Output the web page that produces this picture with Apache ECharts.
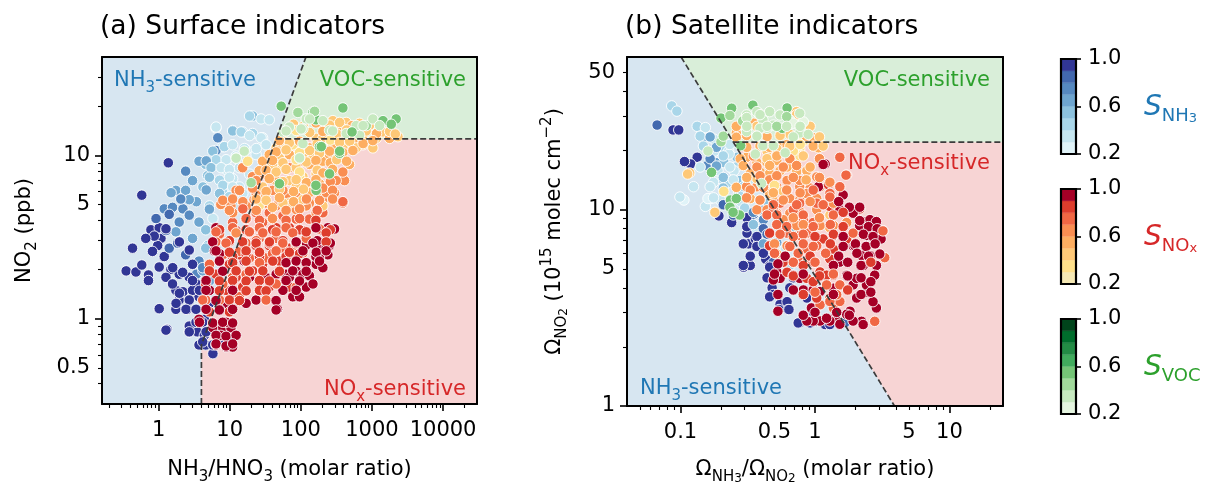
<!DOCTYPE html>
<html><head><meta charset="utf-8">
<script src="https://cdn.jsdelivr.net/npm/echarts@6/dist/echarts.min.js"></script>
<style>html,body{margin:0;padding:0;background:#fff}#c{width:1206px;height:490px}</style>
</head><body><div id="c"></div>
<script>
const FONT = 'DejaVu Sans';
// ---------- panel (a): surface indicators  [NH3/HNO3, NO2 ppb, sensitivity] ----------
const aNH3 = [[6.4,14.7,0.3],[21,17.4,0.5],[27.6,16.7,0.3],[36,16.5,0.3],[29,12.8,0.3],[21,13.6,0.4],[15.2,13.9,0.4],[11,14.2,0.6],[8,11.3,0.4],[8.9,9.2,0.4],[12.3,9.9,0.3],[17,10.8,0.3],[23.5,10.1,0.3],[11,7.2,0.3],[13.7,6.4,0.3],[8,5.9,0.4],[8.9,8.2,0.3],[6.8,8.8,0.4],[4.6,8.8,0.5],[4.2,6.4,0.5],[5.2,4.9,0.4],[4.9,2.8,0.5],[5.8,4.1,0.3],
[6.8,12.8,0.7],[6.4,10.7,0.7],[3.7,9.2,0.6],[2.4,8,0.7],[1.75,6.1,0.6],[2.4,6.1,0.6],[3.4,5.2,0.6],[1.5,5.9,0.6],[1.2,4.7,0.7],[1.57,4.8,0.7],[2.2,4.7,0.7],[2.7,4.3,0.7],[1.95,3.9,0.7],[1.75,3.4,0.6],[3.7,3.9,0.6],[4.6,3.5,0.5],[3,3.1,0.6],[4.6,2.7,0.5],[2.7,2.6,0.7],[3.7,2.25,0.7],[1.95,2.95,0.7],[3.4,1.87,0.7],[5.2,1.7,0.6],[4.2,1.96,0.6],[2.7,5.35,0.6],[4.9,7.5,0.5],[3,7,0.6],[2.05,5.4,0.7],[1.41,4.35,0.8],
[1.37,9,1],[0.58,5.7,1],[0.78,3.5,0.9],[1.02,3.6,0.9],[1.08,3.1,0.9],[0.97,2.8,0.9],[1.2,2.4,0.9],[1.41,2.7,0.8],[1.85,2.9,0.8],[0.43,2.7,1],[0.35,1.96,1],[0.48,1.93,1],[0.58,2.13,1],[0.72,1.85,1],[0.72,1.71,1],[1.02,2.07,0.9],[1.49,2,0.9],[1.95,1.87,0.9],[2.7,1.79,0.9],[1.75,1.49,1],[2.2,1.46,0.9],[2.7,1.3,0.9],[1.95,1.3,1],[2.56,1.14,1],[1.02,1.15,1],[1.31,0.86,1],[1.75,1.14,1],[3.4,1.63,0.9],[3.7,1.36,0.9],[3.4,1.14,1],[2.7,0.83,1],[3.5,0.83,1],[4.4,0.79,1],[3.7,0.69,1],[4.6,0.69,1],[5.8,0.61,1],[2.7,0.9,1],[0.87,3.2,0.9],[0.82,2.58,0.9],[0.66,3.1,0.9],[1.27,1.79,0.9],[1.57,1.63,0.9],[3,1.49,0.9],[2.4,2.46,0.8],[0.92,4.1,0.8],[1.27,3.46,0.8],[5.2,1.24,0.9],[4.4,0.99,1],
[19,17.4,0.4],[6.43,14.9,0.3],[11,14.1,0.5],[14.5,13.9,0.4],[19,13.2,0.3],[27.6,12.8,0.3],[8.4,11.3,0.4],[11,11.6,0.3],[16.1,11,0.3],[23.6,11,0.3],[32.5,11.6,0.3],[5.78,10.6,0.5],[6.43,9.4,0.4],[8.9,9.4,0.3],[12.3,9.64,0.3],[4.68,9.25,0.6],[5.46,8.4,0.5],[7.57,8.4,0.3],[9.9,8.2,0.3],[13.7,8.4,0.3],[19,7.67,0.3],[5.18,7.34,0.5],[7.2,7.04,0.4],[9.9,7.34,0.3],[8,6.55,0.4],[11,6.4,0.3],[15.3,5.84,0.3],[4.68,6.14,0.6],[7.2,5.84,0.5],[9.9,5.58,0.4],[5.18,4.68,0.6],[12.3,4.87,0.4],[8.4,5.1,0.5],
[1.27,3.55,1],[1.96,2.95,1],[2.7,2.63,1],[1.58,2.05,1],[2.18,1.92,0.9],[3,2.15,0.9],[4.17,2.05,0.7],[3,1.71,1],[1.96,1.43,1],[2.7,1.3,0.9],[3.75,1.49,0.9],[1.76,1.24,1],[2.43,1.14,1],[3.36,1.14,0.9],[1.27,0.85,1],[2.7,0.83,1],[4.17,0.95,0.9],[4.65,0.83,0.9],[3.36,0.95,1],[4.17,0.72,1],[5.77,0.69,1],[7.16,0.72,0.9],[9.9,0.74,0.9]];
const aNOx = [[6.1,2.6,1],[7.2,2.25,1],[5.2,1.49,1],[3.7,0.99,1],[5.8,0.88,1],[8,0.88,1],[10.4,0.88,1],[6.4,0.69,1],[8.9,0.67,1],[11,0.67,1],[7.5,0.79,1],[8.9,1.19,1],[15.2,2.8,1],[16,2.25,1],[19,1.79,1],[32,1.79,1],[45,1.87,1],[62,1.87,1],[86,1.96,1],[107,1.87,1],[132,1.83,1],[164,2.15,1],[183,2.7,1],[240,2.46,1],[164,2.8,1],[183,2.35,1],[69,1.79,1],[77,1.36,1],[96,1.36,1],[119,1.56,1],[47,1.14,1],[23.5,1.3,1],[17,1.24,1],[12.3,1.36,1],[204,2.05,1],[148,1.63,1],[8.9,0.95,1],
[6.4,3.6,0.9],[12.3,3.46,0.8],[19,3.4,0.8],[29,3.4,0.8],[45,3.6,0.8],[69,3.6,0.8],[107,3.46,0.8],[204,3.46,0.9],[240,3.6,0.9],[298,3.54,0.9],[253,2.8,0.9],[69,2.7,0.8],[36,2.8,0.8],[23.5,2.8,0.8],[13.7,2.46,0.8],[9.9,2.15,0.8],[12.3,1.79,0.8],[15.2,1.56,0.8],[6.4,1.87,0.8],[4.6,1.63,0.8],[8.9,1.49,0.8],[21,1.96,0.8],[29,2.15,0.8],[50,2.25,0.8],[86,2.35,0.8],[36,1.56,0.8],[26,1.49,0.8],[69,1.56,0.8],[45,2.58,0.9],[119,2.82,0.9],[56,1.49,0.9],[7.2,1.14,0.9],[9.9,1.1,0.8],[5.2,1.1,0.8],
[7.2,3.3,0.7],[9.9,2.95,0.7],[17,2.9,0.7],[26,3.1,0.7],[45,3.1,0.7],[56,2.7,0.7],[86,2.82,0.7],[107,2.52,0.7],[119,3.1,0.7],[13.7,2.58,0.7],[8,2.46,0.7],[5.2,2.15,0.7],[11,1.79,0.7],[4.6,1.3,0.7],[7.2,1.3,0.7],[8,1.63,0.7],[23.5,4.45,0.7],[36,4.45,0.7],[56,4.26,0.7],[86,4.07,0.7],[29,3.88,0.7],[17,4.07,0.7],[11,3.88,0.7],[132,4.07,0.7],[204,4.45,0.7],[390,5.1,0.7],[183,3.54,0.7],[19,2.35,0.7],[32,2.35,0.7],[17,1.87,0.7],[45,1.63,0.7],[86,1.56,0.7],[13.7,1.36,0.7],
[7.5,5,0.6],[10.4,4.9,0.6],[15.2,5.1,0.6],[22,5.35,0.6],[32,5.1,0.6],[45,4.9,0.6],[62,5.6,0.6],[86,5.9,0.6],[132,5.1,0.6],[204,5.35,0.6],[298,5.9,0.6],[412,7,0.6],[314,7,0.6],[227,5.9,0.6],[164,6.4,0.6],[119,4.9,0.6],[56,6.1,0.6],[40,6.1,0.6],[23.5,5.9,0.6],[17,4.9,0.6],[12.3,6.1,0.6],[21,7.4,0.6],[29,7.7,0.6],[45,8.05,0.6],[69,8.4,0.6],[107,9.2,0.6],[15.2,8.4,0.6],[29,9.2,0.5],[11,4.45,0.6],[86,4.66,0.6],[164,4.45,0.6],
[45,11.1,0.4],[62,11.6,0.4],[96,12.1,0.4],[132,11.1,0.5],[204,11.1,0.4],[282,11.6,0.5],[390,11.1,0.4],[540,12.1,0.5],[747,11.6,0.4],[1030,11.1,0.4],[1150,12.7,0.4],[1430,13.9,0.4],[1770,12.7,0.5],[2320,13,0.4],[435,15.9,0.4],[540,14.5,0.4],[314,14.2,0.4],[204,15.2,0.4],[282,16.3,0.4],[164,12.7,0.4],[107,10.1,0.4],[69,10.1,0.5],[50,9.6,0.4],[36,10.1,0.5],[86,8.4,0.4],[132,8.8,0.5],[204,9.2,0.5],[253,10.1,0.5],[350,9.6,0.5],[484,8.8,0.5],[282,8.05,0.5],[164,7.7,0.4],[107,7.4,0.4],[69,7,0.4],[86,6.4,0.4],[132,5.9,0.5],[204,4.9,0.4],[45,7,0.5],[29,6.4,0.4],[26,4.9,0.3],[32,5.6,0.5],[69,5.1,0.4],[107,5.35,0.4],[56,5.1,0.4],[747,13.3,0.4],[390,12.7,0.4],[204,12.7,0.4],[69,11.6,0.4],[107,11.1,0.4],[148,10.1,0.4],[390,14.5,0.5],[600,11.1,0.4],[53,8.8,0.4],[183,6.7,0.5],[26,8.05,0.5],[40,8.8,0.4],[17.9,9.2,0.3],[96,7.4,0.3],[77,11.6,0.3],
[79,15.5,0.4],[109,15.1,0.4],[163,15.8,0.5],[254,15.3,0.4],[351,15.9,0.4],[525,15.2,0.5],[670,15.7,0.4],[927,15.3,0.4],
[56,13.6,0.4],[86,14.2,0.3],[133,13.8,0.4],[204,14,0.5],[320,13.5,0.4],[440,14.3,0.4],[600,13.7,0.4],[830,14.1,0.4],[1160,13.6,0.5],[1770,14,0.4],[2130,13.5,0.4],
[50,12.3,0.5],[69,11.9,0.4],[96,12.2,0.5],[170,11.8,0.4],[260,12.4,0.3],[351,12,0.4],[485,12.2,0.4],[750,11.8,0.5],[1030,12.3,0.5],
[45,10.5,0.5],[62,10.8,0.4],[96,10.4,0.3],[133,10.7,0.4],[183,10.3,0.4],[254,10.6,0.5],[390,10.4,0.5],[540,10.7,0.5],
[40,9.3,0.5],[56,9,0.4],[86,9.4,0.3],[120,9.1,0.4],[163,9.3,0.5],[260,9,0.5],[320,9.4,0.4],[440,9.2,0.5],
[32.5,8.1,0.5],[45,7.9,0.4],[62,8.2,0.4],[96,7.9,0.3],[170,8.1,0.4],[204,7.8,0.5],[280,8.2,0.5],[390,7.9,0.6],
[23.6,7,0.6],[36,7.2,0.5],[56,6.9,0.4],[86,7.1,0.4],[120,6.8,0.5],[163,7.1,0.5],[260,6.9,0.6],
[13.7,6.1,0.6],[21,6.3,0.6],[32.5,6,0.5],[50,6.2,0.4],[79,6,0.5],[109,6.2,0.4],[170,6,0.5],[204,6.3,0.6],[280,6.1,0.6],
[8,5.3,0.6],[11,5.4,0.6],[15.3,5.2,0.6],[23.6,5.4,0.5],[32.5,5.3,0.4],[50,5.5,0.5],[79,5.2,0.5],[120,5.4,0.6],[183,5.3,0.6],[280,5.4,0.6],[390,5.2,0.7],
[9.9,4.6,0.6],[15.3,4.7,0.7],[23.6,4.6,0.6],[40,4.8,0.5],[62,4.6,0.6],[96,4.7,0.6],[170,4.6,0.7],
[17,4.1,0.7],[26.2,4,0.7],[40,4.1,0.6],[62,4,0.7],[96,4.1,0.7],[163,4,0.8],
[7.2,3.5,0.8],[11,3.6,0.7],[17,3.5,0.8],[26.2,3.6,0.7],[40,3.5,0.8],[62,3.6,0.7],[96,3.5,0.8],[163,3.6,1],[260,3.5,0.8],
[6.4,2.95,0.7],[9.9,3,0.8],[15.3,2.9,0.8],[23.6,3,0.7],[36,2.9,0.8],[56,3,0.8],[86,2.9,0.7],[170,3,1],[260,2.9,1],
[7.2,2.5,1],[11,2.4,0.8],[17,2.5,0.8],[26.2,2.4,0.8],[40,2.5,0.7],[62,2.4,0.8],[96,2.5,0.8],[163,2.4,1],
[6.42,3.4,0.7],[12.3,3.35,0.6],[18.9,3.4,0.7],[29.2,3.35,0.7],[44.9,3.4,0.7],[77,3.35,0.7],[119,3.4,0.8],[227,3.35,0.8],
[5.77,2.95,0.9],[8.88,2.9,0.7],[15.2,2.95,0.8],[23.5,2.9,0.8],[36.2,2.95,0.8],[55.7,2.9,0.7],[86,2.95,1],[148,2.9,1],[227,2.95,0.8],
[6.42,2.6,1],[9.9,2.55,0.8],[17,2.6,0.8],[26.2,2.55,0.8],[44.9,2.6,0.7],[69,2.55,0.8],[107,2.6,1],[165,2.55,1],[227,2.6,0.9],
[7.16,2.25,1],[11,2.2,0.8],[17,2.25,0.8],[26.2,2.2,0.7],[40.3,2.25,0.8],[62,2.2,1],[86,2.25,1],[119,2.2,1],[183,2.25,1],
[5.18,1.96,0.8],[7.97,1.95,1],[12.3,1.96,0.8],[18.9,1.95,0.8],[29.2,1.96,0.8],[50,1.95,0.8],[77,1.96,1],[119,1.95,1],
[4.65,1.71,0.9],[7.16,1.7,0.8],[11,1.71,0.8],[17,1.7,0.8],[26.2,1.71,0.8],[36.2,1.7,0.8],[62,1.71,1],[95.8,1.7,1],
[4.65,1.49,0.9],[7.16,1.48,0.8],[11,1.49,1],[17,1.48,0.8],[26.2,1.49,0.8],[32.5,1.48,0.8],[86,1.49,1],
[4.17,1.3,0.7],[6.42,1.29,0.9],[9.9,1.3,0.8],[13.7,1.29,0.8],[32.5,1.3,0.7],[44.9,1.29,1],
[4.65,1.14,1],[7.16,1.13,0.9],[11,1.14,0.9],[44.9,1.13,1],
[3.75,0.95,1],[5.77,0.94,1],[7.97,0.95,1],[11,0.94,0.9],
[6.42,0.79,1],[8.88,0.78,1],[12.3,0.79,1],[6.42,0.7,1],[8.88,0.68,1],[11,0.7,1]];
const aVOC = [[53,20,0.5],[91,18.3,0.4],[148,18.4,0.5],[390,19.5,0.5],[119,16.7,0.3],[164,16.5,0.5],[204,16.3,0.3],[69,14.9,0.3],[107,14.5,0.3],[253,14.2,0.3],[435,13.6,0.3],[832,15.2,0.4],[1030,16.7,0.3],[1430,16.3,0.5],[2190,16.7,0.5],[670,13.3,0.3],[183,11.3,0.5],[107,11.8,0.3],[350,10.3,0.5],[253,7.7,0.5],[164,6.1,0.5],[50,6.7,0.5],[20,6.8,0.4],[16,10.6,0.3],[12.3,9.6,0.3],[96,9.6,0.3],[600,15.2,0.3],[56,13.9,0.3],
[156,18.6,0.4],[133,16.7,0.3],[525,13.9,0.5],[750,15.2,0.3],[1280,15.2,0.3],[1870,15.5,0.5],[62,14.1,0.3],[101,14.5,0.3],[280,14.1,0.3],[194,11.3,0.5],[351,10.6,0.5],[96,9.64,0.3],[163,6.55,0.5]];
// ---------- panel (b): satellite indicators [Ω_NH3/Ω_NO2, Ω_NO2, sensitivity] ----------
const bNH3 = [[0.086,33.8,0.4],[0.094,31.8,0.4],[0.067,27,0.8],[0.088,25.5,1],[0.097,25.5,1],[0.133,26.6,0.4],[0.153,26.2,0.3],[0.145,23.3,0.6],[0.167,23.4,0.6],[0.177,22.9,0.3],[0.133,18.5,0.9],[0.119,17.1,1],[0.158,16.8,0.7],[0.182,17.4,0.6],[0.204,20.3,0.4],[0.228,19.9,0.3],[0.263,18.5,0.5],[0.125,13.1,0.3],[0.106,11.2,0.2],[0.153,10.4,0.3],[0.167,11.4,0.3],[0.198,11.2,0.3],[0.209,14.1,0.4],[0.238,13.9,0.6],[0.278,14.1,0.5],[0.27,12.1,0.4],[0.294,13.1,0.4],[0.193,9.3,1],[0.221,10.6,0.9],[0.24,8.6,1],[0.312,9.6,0.8],[0.349,9.5,0.8],[0.33,8.8,0.8],[0.36,7.9,0.3],[0.391,10,0.6],[0.414,8.9,0.7],[0.312,7.6,1],[0.32,6.7,1],[0.36,7.1,0.9],[0.38,6.8,0.9],[0.294,5.1,1],[0.33,5.2,1],[0.43,5.6,0.9],[0.46,5.2,1],[0.45,4.5,1],[0.48,4,1],[0.49,3.7,1],[0.55,3.3,1],[0.62,3.4,1],[0.63,3.1,1],[0.77,2.66,1],[0.52,6.8,0.6],[0.6,6.3,0.3],[0.65,5.2,0.4],[0.49,5.4,0.8],[0.57,5.4,0.8],[0.69,4.5,1],[0.65,4,1],[0.87,3.55,0.9],[0.97,3,1],[1.15,2.7,1],[1.19,2.6,1],[1.29,2.6,1],[1.67,2.66,0.8],[1.03,2.7,0.9],[0.69,7.6,0.5],[0.45,10.8,0.5],[0.18,19.9,0.3],[0.23,19.2,0.3],[0.19,15.8,0.3],[0.16,11.4,0.2],[0.26,16.5,0.4],[0.22,13.6,0.4],[0.21,17.4,0.5],[0.25,15.8,0.3],[0.28,11,0.3],[0.3,10.2,0.4],[0.31,14.4,0.3],[0.36,14,0.3],
[0.14,23.7,0.4],[0.166,23.5,0.6],[0.148,21.1,0.4],[0.185,20.8,0.6],[0.233,21.5,0.3],[0.107,17.6,1],[0.166,18.2,0.7],[0.208,18.8,0.4],[0.14,16.5,0.3],[0.185,16.7,0.6],[0.233,16.5,0.3],[0.208,14.6,0.5],[0.247,14.2,0.3],[0.176,13.8,0.3],[0.166,13.1,0.3],[0.208,12.9,0.5],[0.099,11.6,0.3],[0.208,10.6,0.8],[0.176,11.5,0.3],[0.247,9.4,0.8],[0.311,9.1,0.9],[0.348,9.7,0.7],[0.311,8.2,1],[0.348,8.4,0.5],[0.413,8,0.8],[0.37,7.3,1],[0.44,7.5,0.8],[0.293,6.7,1],[0.37,6.5,1],[0.413,6.7,0.6],[0.33,5.8,1],[0.413,6,0.9],[0.293,5.2,1],[0.46,5.1,0.9],[0.44,4.5,1],[0.46,3.6,1],[0.54,3.1,1],[0.64,3.1,1],[0.75,2.65,1],[0.92,2.65,1]];
const bNOx = [[0.26,24.6,0.5],[0.31,26,0.5],[0.35,27.6,0.5],[0.38,31,0.4],[0.73,31.6,0.4],[0.97,23.3,0.5],[1.06,20.7,0.5],[0.77,20.4,0.3],[0.77,18.8,0.3],[0.55,20.7,0.5],[0.62,21.5,0.5],[0.65,24.2,0.4],[0.117,15.4,0.4],[0.18,9.7,0.4],[0.21,12.4,0.3],[0.31,18.5,0.5],[0.37,17.4,0.5],[0.44,17.4,0.5],[0.52,17.8,0.5],[0.33,15.3,0.5],[0.39,15.6,0.5],[0.46,15.3,0.5],[0.55,15.8,0.5],[0.62,16.5,0.5],[0.73,15.6,0.5],[0.87,15.8,0.5],[0.31,13.1,0.6],[0.37,13.1,0.6],[0.44,13.6,0.6],[0.52,13.1,0.6],[0.62,12.6,0.6],[0.77,13.1,0.6],[0.92,12.9,0.6],[1.09,13.1,0.6],[0.49,12.4,0.4],[0.58,12.4,0.4],[0.33,11.4,0.5],[0.39,11.2,0.5],[0.49,11.2,0.5],[0.65,11.4,0.6],[0.77,11.2,0.6],[1.03,11.4,0.6],[1.29,11.4,0.6],[0.37,10,0.6],[0.44,10,0.6],[0.52,9.6,0.6],[0.65,9.6,0.6],[0.77,9.8,0.6],[1.03,10,0.6],[1.29,9.4,0.4],[1.29,8.1,0.5],[0.69,19.9,0.3],[0.82,22.4,0.3],[0.44,19.9,0.4],[1.03,14.7,0.6],[0.37,14.4,0.4],
[1.19,17.1,0.9],[1.06,13.1,1],[1.53,18.5,0.7],[1.72,15,0.7],[1.26,13.4,0.8],[1.62,11.9,0.9],[1.29,10.4,0.8],[1.53,10,0.9],[1.82,10,0.9],[2.15,10.1,0.8],[1.92,9.6,1],[2.28,8.7,1],[2.56,8.9,1],[2.86,8.7,1],[2.41,7.4,1],[2.7,7.5,1],[3.21,7.8,1],[3.1,7.1,1],[3.3,5.7,0.7],[3.03,5.95,1],[1.92,6.55,1],[2.22,5.84,1],[2.56,5.84,1],[2.28,5.2,1],[2.86,5.2,1],[2.78,4.64,1],[2.41,3.8,1],[2.86,3.16,1],[2.7,3.4,1],[2.22,2.7,1],[2.28,2.6,1],[2.78,2.7,0.7],[1.92,4.14,0.9],[1.72,4.64,0.9],[2.04,4.47,0.9],[2.04,3.55,0.9],[2.41,4.14,0.9],[1.82,3.04,1],[1.72,2.93,0.9],[1.92,2.71,0.9],[1.41,2.82,1],[1.53,2.61,1],[1.29,2.71,1],[1.09,2.71,1],[0.97,2.71,1],[0.87,2.71,1],[0.94,3.16,0.9],[1.09,3.28,0.7],[1.29,3.55,0.7],[1.37,3.16,0.7],[1.53,3.41,0.7],[0.82,3.9,1],[0.97,3.9,1],[1.09,3.83,0.9],[1.37,3.98,0.9],[1.53,4.14,0.7],[0.52,4.82,1],[0.55,4.47,1],[0.49,4.39,1],[0.53,3.04,1],[0.77,5.41,0.7],[0.87,5.41,0.7],[0.97,5.41,0.8],[1.09,4.82,0.8],[1.37,4.64,0.8],[1.22,4.64,0.8],[1.53,5.41,1],[1.29,5.62,0.8],[1.37,6.3,0.8],[1.15,7.1,0.8],[1.37,7.4,0.8],[1.72,7.1,0.8],[1.98,6.55,1],[0.87,6.3,0.7],[1.03,6.55,0.7],[0.69,5.41,0.6],[0.62,6.55,0.6],[0.77,7.4,0.7],[0.87,7.6,0.7],[0.62,7.6,0.7],[0.52,5.95,0.5],[0.55,8.3,0.7],[0.65,8.6,0.7],[0.82,8.9,0.7],[0.97,8.6,0.7],[0.46,7.6,0.8],[0.46,6.55,0.8],[0.58,5.4,0.8],[0.62,4.8,0.8],[0.69,4.64,0.9],[0.77,4.47,0.9],[0.87,4.47,0.8],[0.97,4.3,0.8],[1.22,4.14,0.7],[1.29,3.41,0.7],[1.45,3.69,0.7],[1.03,3.55,0.8],[1.29,12.1,0.7],[1.03,10.8,0.7],[1.37,10.8,0.6],[1.53,13.1,0.7],[0.77,10.8,0.7],[0.69,10,0.7],[0.55,10.8,0.7],[0.49,10,0.7],[0.58,8.9,0.6],[0.73,8.3,0.6],[1.09,8.3,0.6],[1.37,8.3,0.6],[1.72,8.6,0.6],[1.92,7.6,0.7],[2.15,8.3,0.9],[0.77,14.1,0.6],[0.87,12.1,0.6],[0.62,14.1,0.6],[0.46,12.1,0.5],
[0.3,29,0.4],[0.731,30.5,0.4],[0.26,26.6,0.5],[0.37,26.6,0.4],[0.92,26.6,0.4],[0.26,23.4,0.5],[0.31,23.9,0.5],[0.44,23.6,0.5],[0.55,23.9,0.4],[0.86,23.7,0.5],[1.08,23.5,0.4],[0.311,20.8,0.5],[0.39,21.1,0.5],[0.46,20.8,0.5],[0.52,20.4,0.4],[0.65,21.1,0.4],[0.775,21.5,0.3],[0.97,21.1,0.5],[1.15,21.1,0.4],[0.113,15.2,0.4],[0.278,18.2,0.5],[0.348,18.8,0.6],[0.44,18.2,0.4],[0.52,18.8,0.5],[0.65,18.2,0.6],[0.818,18.8,0.4],[1.08,18.2,0.6],[0.293,16.8,0.5],[0.37,16.5,0.6],[0.46,16.8,0.5],[0.581,16.5,0.6],[0.73,16.8,0.6],[0.92,16.5,0.5],[1.15,17,0.9],[1.7,15,0.7],[0.311,14.6,0.5],[0.39,14.9,0.6],[0.46,14.2,0.6],[0.52,14.9,0.6],[0.69,14.6,0.6],[0.86,14.2,0.5],[1.08,14.6,0.6],[1.29,13.8,0.6],[0.5,13.3,0.3],[0.26,13,0.5],[0.33,12.6,0.6],[0.413,13,0.6],[0.49,12.2,0.5],[0.616,12.6,0.6],[0.775,12.2,0.6],[0.97,12.6,0.7],[1.29,11.6,0.7],[0.31,11.5,0.6],[0.39,11.2,0.6],[0.49,10.6,0.7],[0.581,11.2,0.6],[0.731,10.6,0.7],[0.92,11,0.6],[1.15,10.6,0.7],[1.5,11,0.9],[1.8,10.3,1],[2.15,10.3,1],[0.44,9.4,0.7],[0.52,9.4,0.7],[0.69,9.1,0.6],[0.818,9.4,0.7],[1.08,9.1,0.6],[1.37,9.4,0.7],[1.62,9.7,0.8],[0.52,8.4,0.7],[0.616,8.2,0.7],[0.818,8.4,0.6],[0.97,8.2,0.7],[1.3,8.4,0.7],[1.62,8.2,0.8],[2.15,8.8,1],[2.5,8.2,1],[2.9,8,1],[0.55,7.5,0.7],[0.69,7.3,0.7],[0.818,7.5,0.7],[1,7.3,0.8],[1.37,7.5,0.8],[1.62,7.3,0.9],[2.29,7.5,1],[2.7,7.3,1],[3.2,7.8,0.7],[0.5,6.7,0.6],[0.65,6.5,0.7],[0.818,6.7,0.7],[0.97,6.5,0.7],[1.3,6.7,0.8],[1.62,6.5,1],[2,6.7,1],[2.4,6.5,1],[2.8,6.7,1],[0.5,6,0.7],[0.6,5.8,0.9],[0.75,6,0.7],[0.92,5.8,0.8],[1.2,6,0.7],[1.5,5.8,1],[2.05,6,1],[2.5,5.8,0.9],[0.53,5.3,1],[0.69,5.4,0.7],[0.818,5.2,0.8],[1,5.4,0.7],[1.37,5.2,0.9],[1.75,5.4,1],[2.2,5.2,1],[2.6,5.4,0.8],[0.5,4.7,1],[0.69,4.6,0.8],[0.818,4.7,0.9],[1.08,4.6,0.8],[1.37,4.7,0.7],[1.75,4.6,1],[2.2,4.5,1],[2.6,4.3,1],[0.53,3.7,1],[0.69,3.9,1],[0.818,3.7,0.8],[1,3.8,0.7],[1.37,3.7,1],[1.75,3.9,0.8],[2.2,3.7,1],[2.6,3.8,1],[0.818,2.9,1],[1,3,1],[1.22,2.8,1],[1.45,3,0.9],[1.8,2.9,1]];
const bVOC = [[0.2,29.3,0.5],[0.24,32.9,0.5],[0.31,30.4,0.3],[0.345,34.1,0.5],[0.37,31.6,0.3],[0.41,28.7,0.3],[0.44,26,0.3],[0.39,26,0.3],[0.49,27,0.3],[0.62,33,0.5],[0.65,28.7,0.2],[0.69,27.6,0.2],[0.57,26,0.5],[0.77,24.6,0.3],[0.89,24.2,0.3],[0.82,28,0.2],[0.31,25,0.3],[0.37,23.7,0.3],[0.29,28.3,0.4],[0.2,22.2,0.4],[0.28,21.2,0.5],[0.41,21.2,0.3],[0.49,21.2,0.3],[0.36,19.2,0.3],[0.6,19.5,0.3],[0.16,19.9,0.3],[0.17,15.5,0.5],[0.235,11.2,0.5],[0.26,11.4,0.5],[0.275,9.4,0.5],[0.4,13.6,0.3],[0.55,30.4,0.3],[0.77,31,0.3],[0.46,31.6,0.3],
[0.233,30.2,0.4],[0.311,29.5,0.3],[0.616,29.8,0.4],[0.39,30.5,0.3],[0.311,26.6,0.3],[0.44,26.6,0.3],[0.52,26.6,0.4],[0.616,26.6,0.3],[0.775,26.6,0.3],[0.208,23.7,0.4],[0.37,23.7,0.3],[0.69,23.5,0.3],[0.233,10.3,0.5],[0.246,9.7,0.5]];
// ---------- regime boundaries and regions ----------
const aLim = {x:[0.16,30000], y:[0.3,40]};
const bLim = {x:[0.04,25], y:[1,60]};
const aBoundDiag = [[4,0.3],[4,0.69],[45,12.6],[118,40]];
const aBoundHoriz = [[45,12.6],[30000,12.6]];
const aRegNH3 = [[0.16,0.3],[4,0.3],[4,0.69],[118,40],[0.16,40]];
const aRegVOC = [[118,40],[30000,40],[30000,12.6],[45,12.6]];
const aRegNOx = [[4,0.3],[30000,0.3],[30000,12.6],[45,12.6],[4,0.69]];
const bBoundDiag = [[0.101,60],[0.247,22.1],[3.9,1]];
const bBoundHoriz = [[0.247,22.1],[25,22.1]];
const bRegNH3 = [[0.04,1],[3.9,1],[0.247,22.1],[0.101,60],[0.04,60]];
const bRegVOC = [[0.101,60],[25,60],[25,22.1],[0.247,22.1]];
const bRegNOx = [[3.9,1],[25,1],[25,22.1],[0.247,22.1]];
// ---------- ticks ----------
const aXMajor = [1,10,100,1000,10000], aXLabels = [1,10,100,1000,10000];
const aXMinor = [0.2,0.3,0.4,0.5,0.6,0.7,0.8,0.9,2,3,4,5,6,7,8,9,20,30,40,50,60,70,80,90,200,300,400,500,600,700,800,900,2000,3000,4000,5000,6000,7000,8000,9000,20000];
const aYMajor = [1,10], aYLabels = [0.5,1,5,10];
const aYMinor = [0.4,0.5,0.6,0.7,0.8,0.9,2,3,4,5,6,7,8,9,20,30];
const bXMajor = [0.1,1,10], bXLabels = [0.1,0.5,1,5,10];
const bXMinor = [0.05,0.06,0.07,0.08,0.09,0.2,0.3,0.4,0.5,0.6,0.7,0.8,0.9,2,3,4,5,6,7,8,9,20];
const bYMajor = [1,10], bYLabels = [1,5,10,50];
const bYMinor = [2,3,4,5,6,7,8,9,20,30,40,50];
// ---------- colour bars ----------
const cbEdges = [0.2,0.3,0.4,0.5,0.6,0.7,0.8,0.9,1.0];
const cbTicks = [0.2,0.6,1.0];
const palNH3 = ['#e0f3f8','#c6e6f0','#a9d6e9','#8cc1dd','#6ea5cf','#5689c0','#4268ae','#313695'];
const palNOx = ['#f5e8b4','#fee08b','#fec877','#fdae61','#f98e52','#f06744','#dd3d2d','#a50026'];
const palVOC = ['#e5f5e0','#c7e9c0','#a1d99b','#74c476','#41ab5d','#238b45','#006d2c','#00441b'];
const cBlue = '#1f77b4', cRed = '#d62728', cGreen = '#2ca02c';
const fillBlue = 'rgba(31,119,180,0.18)', fillRed = 'rgba(214,39,40,0.2)', fillGreen = 'rgba(44,160,44,0.18)';

const fmt = v => String(+(+v).toPrecision(6));
const binIdx = s => Math.max(0, Math.min(7, Math.round((s - 0.2) * 10)));

function rich(size, color) {
  return {
    m: {fontSize: size, lineHeight: Math.round(size * 1.45), color: color, fill: color, fontFamily: FONT},
    s: {fontSize: Math.round(size * 0.72), lineHeight: Math.round(size * 0.72), color: color, fill: color, fontFamily: FONT, verticalAlign: 'bottom'},
    ss: {fontSize: Math.round(size * 0.55), lineHeight: Math.round(size * 0.5), color: color, fill: color, fontFamily: FONT, verticalAlign: 'bottom'},
    p: {fontSize: Math.round(size * 0.72), lineHeight: Math.round(size * 0.72), color: color, fill: color, fontFamily: FONT, verticalAlign: 'top'}
  };
}
function richS(color) {
  return {
    S: {fontSize: 28, lineHeight: 34, color: color, fill: color, fontFamily: FONT, fontStyle: 'italic'},
    s: {fontSize: 18, lineHeight: 18, color: color, fill: color, fontFamily: FONT, verticalAlign: 'bottom'},
    ss: {fontSize: 13, lineHeight: 12, color: color, fill: color, fontFamily: FONT, verticalAlign: 'bottom'}
  };
}

const baseLog = {type: 'log', logBase: 10, splitLine: {show: false}, minorTick: {show: false}, minorSplitLine: {show: false}, z: 10, silent: true};
const lblStyle = {color: '#000', fontSize: 21, fontFamily: FONT, formatter: fmt};
function axesFor(dim, gi, lim, major, labels, minor, name, nameGap) {
  const p1 = dim === 'x' ? 'bottom' : 'left', p2 = dim === 'x' ? 'top' : 'right';
  return [
    Object.assign({}, baseLog, {gridIndex: gi, min: lim[0], max: lim[1], position: p1,
      axisLine: {show: true, onZero: false, lineStyle: {color: '#000', width: 2}},
      axisTick: {show: true, inside: false, length: 7, customValues: major, lineStyle: {color: '#000', width: 1.6}},
      axisLabel: Object.assign({show: true, customValues: labels, margin: dim === 'x' ? 16 : 12}, lblStyle),
      name: name, nameLocation: 'middle', nameGap: nameGap, nameRotate: dim === 'x' ? 0 : 90,
      nameTextStyle: {rich: rich(21, '#000')}}),
    Object.assign({}, baseLog, {gridIndex: gi, min: lim[0], max: lim[1], position: p1,
      axisLine: {show: false, onZero: false},
      axisTick: {show: true, inside: false, length: 4, customValues: minor, lineStyle: {color: '#000', width: 1.1}},
      axisLabel: {show: false}}),
    Object.assign({}, baseLog, {gridIndex: gi, min: lim[0], max: lim[1], position: p2,
      axisLine: {show: true, onZero: false, lineStyle: {color: '#000', width: 2}},
      axisTick: {show: false}, axisLabel: {show: false}})
  ];
}

const xAxis = [].concat(
  axesFor('x', 0, aLim.x, aXMajor, aXLabels, aXMinor, '{m|NH}{s|3}{m|/HNO}{s|3}{m| (molar ratio)}', 51),
  axesFor('x', 1, bLim.x, bXMajor, bXLabels, bXMinor, '{m|Ω}{s|NH}{ss|3}{m|/Ω}{s|NO}{ss|2}{m| (molar ratio)}', 49)
);
const yAxis = [].concat(
  axesFor('y', 0, aLim.y, aYMajor, aYLabels, aYMinor, '{m|NO}{s|2}{m| (ppb)}', 62),
  axesFor('y', 1, bLim.y, bYMajor, bYLabels, bYMinor, '{m|Ω}{s|NO}{ss|2}{m| (10}{p|15}{m| molec cm}{p|−2}{m|)}', 57)
);
const cbTops = [59, 189, 319];
const grid = [
  {left: 102, top: 57, width: 375, height: 356},
  {left: 627, top: 57, width: 376, height: 356}
];
cbTops.forEach((t, i) => {
  grid.push({left: 1061, top: t, width: 15, height: 95});
  xAxis.push({type: 'value', gridIndex: 2 + i, min: 0, max: 1, show: false});
  yAxis.push({type: 'value', gridIndex: 2 + i, min: 0.2, max: 1.0, position: 'right', z: 10,
    splitLine: {show: false}, axisLine: {show: false, onZero: false},
    axisTick: {show: true, inside: false, length: 5, customValues: cbTicks, lineStyle: {color: '#000', width: 1.6}},
    axisLabel: {show: true, customValues: cbTicks, margin: 12, color: '#000', fontSize: 21, fontFamily: FONT, formatter: v => (+v).toFixed(1)}});
});

function region(xi, yi, poly, color) {
  return {type: 'custom', xAxisIndex: xi, yAxisIndex: yi, silent: true, z: 1, data: [poly[0]],
    renderItem: (p, api) => ({type: 'polygon', shape: {points: poly.map(pt => api.coord(pt))}, style: {fill: color}})};
}
function bound(xi, yi, pts) {
  return {type: 'line', xAxisIndex: xi, yAxisIndex: yi, data: pts, symbol: 'none', silent: true, z: 5,
    lineStyle: {color: '#3c3c3c', width: 1.7, type: [6, 3]}, animation: false};
}
function scat(xi, yi, pts, pal) {
  return {type: 'scatter', xAxisIndex: xi, yAxisIndex: yi, data: pts, symbolSize: 10.5, z: 3,
    itemStyle: {color: p => pal[binIdx(p.value[2])], borderColor: '#fff', borderWidth: 0.9, opacity: 1}};
}
function cbar(i, pal) {
  const data = pal.map((c, k) => [cbEdges[k], cbEdges[k + 1], k]);
  return [{type: 'custom', xAxisIndex: 6 + i, yAxisIndex: 6 + i, silent: true, z: 2, data: data,
    renderItem: (p, api) => {
      const lo = api.value(0), hi = api.value(1), k = api.value(2);
      const a = api.coord([0, lo]), b = api.coord([1, hi]);
      return {type: 'rect', shape: {x: a[0], y: b[1], width: b[0] - a[0], height: a[1] - b[1]}, style: {fill: pal[k], stroke: pal[k], lineWidth: 0.3}};
    }},
    {type: 'custom', xAxisIndex: 6 + i, yAxisIndex: 6 + i, silent: true, z: 4, data: [[0, cbEdges[0]]],
    renderItem: (p, api) => {
      const a = api.coord([0, cbEdges[0]]), b = api.coord([1, cbEdges[8]]);
      return {type: 'rect', shape: {x: a[0], y: b[1], width: b[0] - a[0], height: a[1] - b[1]}, style: {fill: 'none', stroke: '#000', lineWidth: 2.2}};
    }}];
}

const series = [
  region(0, 0, aRegNH3, fillBlue), region(0, 0, aRegVOC, fillGreen), region(0, 0, aRegNOx, fillRed),
  scat(0, 0, aNH3, palNH3), scat(0, 0, aNOx, palNOx), scat(0, 0, aVOC, palVOC),
  bound(0, 0, aBoundDiag), bound(0, 0, aBoundHoriz),
  region(3, 3, bRegNH3, fillBlue), region(3, 3, bRegVOC, fillGreen), region(3, 3, bRegNOx, fillRed),
  scat(3, 3, bNH3, palNH3), scat(3, 3, bNOx, palNOx), scat(3, 3, bVOC, palVOC),
  bound(3, 3, bBoundDiag), bound(3, 3, bBoundHoriz)
].concat(cbar(0, palNH3), cbar(1, palNOx), cbar(2, palVOC));

function txt(x, y, text, color, size, align, rs) {
  return {type: 'text', z: 100, silent: true, style: {x: x, y: y, text: text, rich: rs || rich(size, color),
    fill: color, fontSize: size, fontFamily: FONT, align: align, textAlign: align, verticalAlign: 'middle', textVerticalAlign: 'middle'}};
}
const graphic = [
  txt(100, 27, '{m|(a) Surface indicators}', '#000', 26.5, 'left'),
  txt(625, 27, '{m|(b) Satellite indicators}', '#000', 26.5, 'left'),
  txt(114, 81, '{m|NH}{s|3}{m|-sensitive}', cBlue, 21, 'left'),
  txt(466, 81, '{m|VOC-sensitive}', cGreen, 21, 'right'),
  txt(466, 390, '{m|NO}{s|x}{m|-sensitive}', cRed, 21, 'right'),
  txt(990, 81, '{m|VOC-sensitive}', cGreen, 21, 'right'),
  txt(990, 164, '{m|NO}{s|x}{m|-sensitive}', cRed, 21, 'right'),
  txt(640, 389, '{m|NH}{s|3}{m|-sensitive}', cBlue, 21, 'left'),
  txt(1144, 108, '{S|S}{s|NH}{ss|3}', cBlue, 21, 'left', richS(cBlue)),
  txt(1144, 238, '{S|S}{s|NO}{ss|x}', cRed, 21, 'left', richS(cRed)),
  txt(1144, 368, '{S|S}{s|VOC}', cGreen, 21, 'left', richS(cGreen))
];

const chart = echarts.init(document.getElementById('c'), null, {renderer: 'canvas'});
chart.setOption({animation: false, backgroundColor: '#fff', grid: grid, xAxis: xAxis, yAxis: yAxis, series: series, graphic: graphic});
</script></body></html>
